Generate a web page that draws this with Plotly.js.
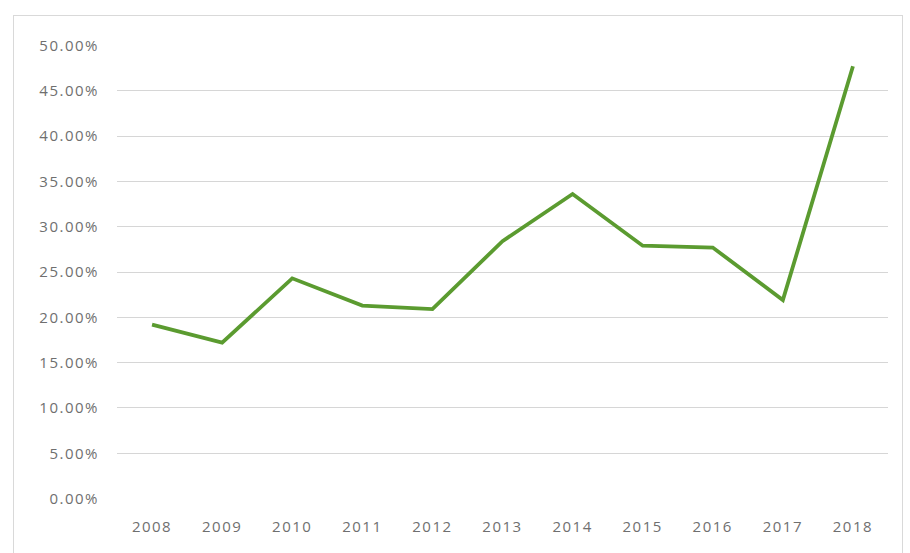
<!DOCTYPE html>
<html>
<head>
<meta charset="utf-8">
<script src="https://cdn.plot.ly/plotly-3.0.1.min.js"></script>
<style>
  html, body { margin: 0; padding: 0; background: #fff; width: 910px; height: 553px; overflow: hidden; }
  #chart { position: absolute; left: 13px; top: 15px; width: 888px; height: 540px; border: 1px solid #d9d9d9; }
  #chart .xtick text, #chart .ytick text { letter-spacing: 1.5px; }
</style>
</head>
<body>
<div id="chart"></div>
<script>
const years = ['2008','2009','2010','2011','2012','2013','2014','2015','2016','2017','2018'];
const rates = [0.192, 0.172, 0.243, 0.213, 0.209, 0.284, 0.336, 0.279, 0.277, 0.219, 0.477];
const yTicks = [0, 0.05, 0.10, 0.15, 0.20, 0.25, 0.30, 0.35, 0.40, 0.45, 0.50];

Plotly.newPlot('chart', [{
  x: years,
  y: rates,
  type: 'scatter',
  mode: 'lines',
  line: { color: '#5b9b30', width: 3.8 },
  hoverinfo: 'x+y'
}], {
  width: 888,
  height: 540,
  margin: { l: 103, r: 14, t: 29, b: 57 },
  paper_bgcolor: '#ffffff',
  plot_bgcolor: '#ffffff',
  showlegend: false,
  font: { family: 'Open Sans, Liberation Sans, Arial, sans-serif', size: 15, color: '#6f6f6f' },
  xaxis: {
    type: 'category',
    range: [-0.5, 10.5],
    showgrid: false,
    zeroline: false,
    showline: false,
    ticks: 'outside',
    ticklen: 14,
    tickcolor: 'rgba(0,0,0,0)',
    tickfont: { size: 15, color: '#6f6f6f' }
  },
  yaxis: {
    range: [-0.0004, 0.5004],
    tickvals: yTicks,
    tickformat: '.2%',
    showgrid: true,
    gridcolor: '#d6d6d6',
    gridwidth: 1,
    zeroline: false,
    showline: false,
    ticks: 'outside',
    ticklen: 14,
    tickcolor: 'rgba(0,0,0,0)',
    tickfont: { size: 15, color: '#6f6f6f' }
  }
}, { displayModeBar: false, staticPlot: true });
</script>
</body>
</html>
